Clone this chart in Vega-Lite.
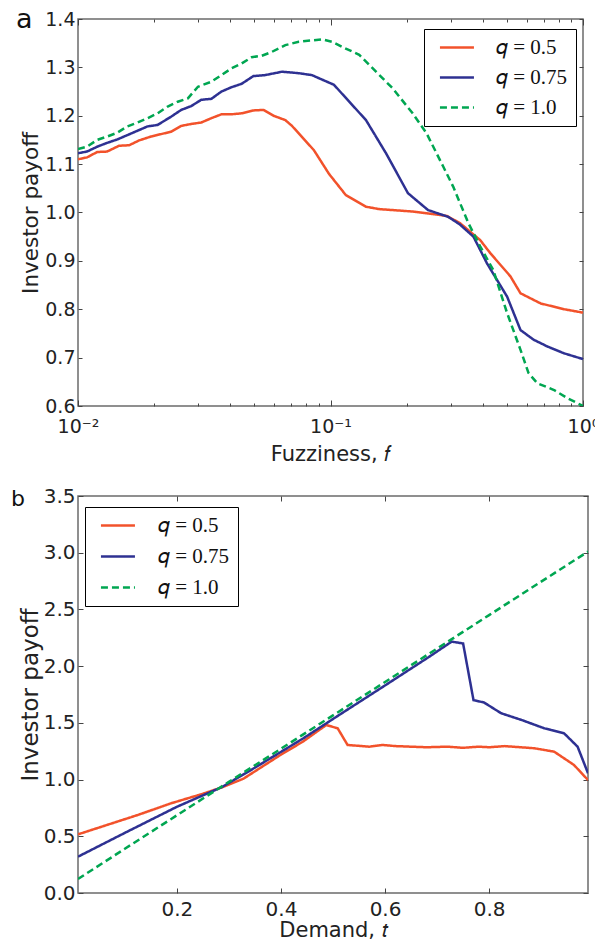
{
  "$schema": "https://vega.github.io/schema/vega-lite/v6.json",
  "padding": {"left": 10, "top": 5, "right": 0, "bottom": 0},
  "datasets": {
    "fuzz": [
      {"f": 0.01, "payoff": 1.110, "q": "0.5"},
      {"f": 0.01086, "payoff": 1.114, "q": "0.5"},
      {"f": 0.01191, "payoff": 1.125, "q": "0.5"},
      {"f": 0.01305, "payoff": 1.126, "q": "0.5"},
      {"f": 0.01454, "payoff": 1.138, "q": "0.5"},
      {"f": 0.01594, "payoff": 1.139, "q": "0.5"},
      {"f": 0.01747, "payoff": 1.149, "q": "0.5"},
      {"f": 0.01944, "payoff": 1.157, "q": "0.5"},
      {"f": 0.02131, "payoff": 1.162, "q": "0.5"},
      {"f": 0.02336, "payoff": 1.167, "q": "0.5"},
      {"f": 0.02562, "payoff": 1.179, "q": "0.5"},
      {"f": 0.02808, "payoff": 1.183, "q": "0.5"},
      {"f": 0.03078, "payoff": 1.186, "q": "0.5"},
      {"f": 0.03375, "payoff": 1.195, "q": "0.5"},
      {"f": 0.03699, "payoff": 1.203, "q": "0.5"},
      {"f": 0.04055, "payoff": 1.203, "q": "0.5"},
      {"f": 0.04446, "payoff": 1.205, "q": "0.5"},
      {"f": 0.04951, "payoff": 1.211, "q": "0.5"},
      {"f": 0.05427, "payoff": 1.212, "q": "0.5"},
      {"f": 0.05949, "payoff": 1.200, "q": "0.5"},
      {"f": 0.06625, "payoff": 1.191, "q": "0.5"},
      {"f": 0.0704, "payoff": 1.179, "q": "0.5"},
      {"f": 0.0859, "payoff": 1.129, "q": "0.5"},
      {"f": 0.0986, "payoff": 1.080, "q": "0.5"},
      {"f": 0.115, "payoff": 1.036, "q": "0.5"},
      {"f": 0.1382, "payoff": 1.012, "q": "0.5"},
      {"f": 0.156, "payoff": 1.007, "q": "0.5"},
      {"f": 0.2115, "payoff": 1.002, "q": "0.5"},
      {"f": 0.2884, "payoff": 0.993, "q": "0.5"},
      {"f": 0.3258, "payoff": 0.978, "q": "0.5"},
      {"f": 0.3916, "payoff": 0.943, "q": "0.5"},
      {"f": 0.4293, "payoff": 0.916, "q": "0.5"},
      {"f": 0.5159, "payoff": 0.868, "q": "0.5"},
      {"f": 0.5656, "payoff": 0.833, "q": "0.5"},
      {"f": 0.6798, "payoff": 0.812, "q": "0.5"},
      {"f": 0.8425, "payoff": 0.800, "q": "0.5"},
      {"f": 1.0, "payoff": 0.793, "q": "0.5"},
      {"f": 0.01, "payoff": 1.1225, "q": "0.75"},
      {"f": 0.01086, "payoff": 1.126, "q": "0.75"},
      {"f": 0.01191, "payoff": 1.136, "q": "0.75"},
      {"f": 0.01305, "payoff": 1.144, "q": "0.75"},
      {"f": 0.01431, "payoff": 1.151, "q": "0.75"},
      {"f": 0.01569, "payoff": 1.160, "q": "0.75"},
      {"f": 0.0172, "payoff": 1.169, "q": "0.75"},
      {"f": 0.01886, "payoff": 1.178, "q": "0.75"},
      {"f": 0.02067, "payoff": 1.181, "q": "0.75"},
      {"f": 0.02336, "payoff": 1.198, "q": "0.75"},
      {"f": 0.02562, "payoff": 1.212, "q": "0.75"},
      {"f": 0.02808, "payoff": 1.220, "q": "0.75"},
      {"f": 0.03078, "payoff": 1.233, "q": "0.75"},
      {"f": 0.03375, "payoff": 1.235, "q": "0.75"},
      {"f": 0.03699, "payoff": 1.250, "q": "0.75"},
      {"f": 0.04055, "payoff": 1.259, "q": "0.75"},
      {"f": 0.04446, "payoff": 1.266, "q": "0.75"},
      {"f": 0.04951, "payoff": 1.282, "q": "0.75"},
      {"f": 0.05512, "payoff": 1.284, "q": "0.75"},
      {"f": 0.06421, "payoff": 1.291, "q": "0.75"},
      {"f": 0.07486, "payoff": 1.288, "q": "0.75"},
      {"f": 0.0844, "payoff": 1.284, "q": "0.75"},
      {"f": 0.1032, "payoff": 1.264, "q": "0.75"},
      {"f": 0.1382, "payoff": 1.191, "q": "0.75"},
      {"f": 0.1661, "payoff": 1.122, "q": "0.75"},
      {"f": 0.2026, "payoff": 1.040, "q": "0.75"},
      {"f": 0.2434, "payoff": 1.005, "q": "0.75"},
      {"f": 0.2927, "payoff": 0.991, "q": "0.75"},
      {"f": 0.3258, "payoff": 0.975, "q": "0.75"},
      {"f": 0.3683, "payoff": 0.950, "q": "0.75"},
      {"f": 0.4165, "payoff": 0.895, "q": "0.75"},
      {"f": 0.5006, "payoff": 0.826, "q": "0.75"},
      {"f": 0.5656, "payoff": 0.757, "q": "0.75"},
      {"f": 0.6374, "payoff": 0.737, "q": "0.75"},
      {"f": 0.723, "payoff": 0.723, "q": "0.75"},
      {"f": 0.8401, "payoff": 0.709, "q": "0.75"},
      {"f": 1.0, "payoff": 0.697, "q": "0.75"},
      {"f": 0.01, "payoff": 1.131, "q": "1.0"},
      {"f": 0.01086, "payoff": 1.136, "q": "1.0"},
      {"f": 0.01191, "payoff": 1.150, "q": "1.0"},
      {"f": 0.01305, "payoff": 1.157, "q": "1.0"},
      {"f": 0.01431, "payoff": 1.165, "q": "1.0"},
      {"f": 0.01569, "payoff": 1.178, "q": "1.0"},
      {"f": 0.0172, "payoff": 1.186, "q": "1.0"},
      {"f": 0.01886, "payoff": 1.195, "q": "1.0"},
      {"f": 0.02067, "payoff": 1.205, "q": "1.0"},
      {"f": 0.02266, "payoff": 1.219, "q": "1.0"},
      {"f": 0.02484, "payoff": 1.229, "q": "1.0"},
      {"f": 0.02724, "payoff": 1.236, "q": "1.0"},
      {"f": 0.02986, "payoff": 1.260, "q": "1.0"},
      {"f": 0.03365, "payoff": 1.270, "q": "1.0"},
      {"f": 0.03699, "payoff": 1.284, "q": "1.0"},
      {"f": 0.04055, "payoff": 1.298, "q": "1.0"},
      {"f": 0.04446, "payoff": 1.308, "q": "1.0"},
      {"f": 0.04873, "payoff": 1.321, "q": "1.0"},
      {"f": 0.05342, "payoff": 1.324, "q": "1.0"},
      {"f": 0.05856, "payoff": 1.332, "q": "1.0"},
      {"f": 0.06625, "payoff": 1.346, "q": "1.0"},
      {"f": 0.07486, "payoff": 1.353, "q": "1.0"},
      {"f": 0.0925, "payoff": 1.358, "q": "1.0"},
      {"f": 0.1014, "payoff": 1.353, "q": "1.0"},
      {"f": 0.1137, "payoff": 1.340, "q": "1.0"},
      {"f": 0.13, "payoff": 1.326, "q": "1.0"},
      {"f": 0.1562, "payoff": 1.284, "q": "1.0"},
      {"f": 0.176, "payoff": 1.257, "q": "1.0"},
      {"f": 0.2115, "payoff": 1.205, "q": "1.0"},
      {"f": 0.2399, "payoff": 1.164, "q": "1.0"},
      {"f": 0.2795, "payoff": 1.095, "q": "1.0"},
      {"f": 0.3064, "payoff": 1.053, "q": "1.0"},
      {"f": 0.3516, "payoff": 0.978, "q": "1.0"},
      {"f": 0.3916, "payoff": 0.930, "q": "1.0"},
      {"f": 0.4413, "payoff": 0.881, "q": "1.0"},
      {"f": 0.5006, "payoff": 0.792, "q": "1.0"},
      {"f": 0.5656, "payoff": 0.716, "q": "1.0"},
      {"f": 0.6087, "payoff": 0.668, "q": "1.0"},
      {"f": 0.6595, "payoff": 0.647, "q": "1.0"},
      {"f": 0.7681, "payoff": 0.633, "q": "1.0"},
      {"f": 0.8694, "payoff": 0.616, "q": "1.0"},
      {"f": 1.0, "payoff": 0.600, "q": "1.0"}
    ],
    "demand": [
      {"t": 0.01, "payoff": 0.517, "q": "0.5"},
      {"t": 0.125, "payoff": 0.688, "q": "0.5"},
      {"t": 0.189, "payoff": 0.791, "q": "0.5"},
      {"t": 0.25, "payoff": 0.875, "q": "0.5"},
      {"t": 0.287, "payoff": 0.932, "q": "0.5"},
      {"t": 0.328, "payoff": 1.008, "q": "0.5"},
      {"t": 0.4, "payoff": 1.22, "q": "0.5"},
      {"t": 0.442, "payoff": 1.334, "q": "0.5"},
      {"t": 0.487, "payoff": 1.481, "q": "0.5"},
      {"t": 0.509, "payoff": 1.452, "q": "0.5"},
      {"t": 0.528, "payoff": 1.305, "q": "0.5"},
      {"t": 0.57, "payoff": 1.29, "q": "0.5"},
      {"t": 0.595, "payoff": 1.305, "q": "0.5"},
      {"t": 0.62, "payoff": 1.295, "q": "0.5"},
      {"t": 0.65, "payoff": 1.29, "q": "0.5"},
      {"t": 0.68, "payoff": 1.285, "q": "0.5"},
      {"t": 0.72, "payoff": 1.29, "q": "0.5"},
      {"t": 0.75, "payoff": 1.28, "q": "0.5"},
      {"t": 0.78, "payoff": 1.29, "q": "0.5"},
      {"t": 0.8, "payoff": 1.285, "q": "0.5"},
      {"t": 0.83, "payoff": 1.295, "q": "0.5"},
      {"t": 0.86, "payoff": 1.285, "q": "0.5"},
      {"t": 0.887, "payoff": 1.276, "q": "0.5"},
      {"t": 0.925, "payoff": 1.246, "q": "0.5"},
      {"t": 0.963, "payoff": 1.129, "q": "0.5"},
      {"t": 0.99, "payoff": 0.996, "q": "0.5"},
      {"t": 0.01, "payoff": 0.32, "q": "0.75"},
      {"t": 0.1, "payoff": 0.53, "q": "0.75"},
      {"t": 0.2, "payoff": 0.76, "q": "0.75"},
      {"t": 0.287, "payoff": 0.935, "q": "0.75"},
      {"t": 0.35, "payoff": 1.105, "q": "0.75"},
      {"t": 0.443, "payoff": 1.364, "q": "0.75"},
      {"t": 0.512, "payoff": 1.57, "q": "0.75"},
      {"t": 0.595, "payoff": 1.815, "q": "0.75"},
      {"t": 0.684, "payoff": 2.08, "q": "0.75"},
      {"t": 0.728, "payoff": 2.216, "q": "0.75"},
      {"t": 0.75, "payoff": 2.2, "q": "0.75"},
      {"t": 0.77, "payoff": 1.70, "q": "0.75"},
      {"t": 0.79, "payoff": 1.68, "q": "0.75"},
      {"t": 0.823, "payoff": 1.585, "q": "0.75"},
      {"t": 0.862, "payoff": 1.526, "q": "0.75"},
      {"t": 0.906, "payoff": 1.452, "q": "0.75"},
      {"t": 0.944, "payoff": 1.408, "q": "0.75"},
      {"t": 0.97, "payoff": 1.29, "q": "0.75"},
      {"t": 0.99, "payoff": 1.056, "q": "0.75"},
      {"t": 0.01, "payoff": 0.123, "q": "1.0"},
      {"t": 0.1, "payoff": 0.39, "q": "1.0"},
      {"t": 0.2, "payoff": 0.685, "q": "1.0"},
      {"t": 0.3, "payoff": 0.98, "q": "1.0"},
      {"t": 0.4, "payoff": 1.272, "q": "1.0"},
      {"t": 0.5, "payoff": 1.566, "q": "1.0"},
      {"t": 0.6, "payoff": 1.86, "q": "1.0"},
      {"t": 0.7, "payoff": 2.155, "q": "1.0"},
      {"t": 0.8, "payoff": 2.45, "q": "1.0"},
      {"t": 0.9, "payoff": 2.745, "q": "1.0"},
      {"t": 0.99, "payoff": 3.01, "q": "1.0"}
    ]
  },
  "vconcat": [
    {
      "width": 505,
      "height": 387,
      "title": {"text": "a", "anchor": "start", "frame": "group", "fontSize": 27, "fontWeight": "normal", "color": "#111", "dx": -62, "offset": -24},
      "data": {"name": "fuzz"},
      "layer": [
        {
          "mark": {"type": "line", "strokeWidth": 2.5, "clip": true},
          "encoding": {
            "x": {"field": "f", "type": "quantitative", "scale": {"type": "log", "domain": [0.01, 1], "nice": false},
              "axis": {"orient": "bottom", "values": [0.01,0.02,0.03,0.04,0.05,0.06,0.07,0.08,0.09,0.1,0.2,0.3,0.4,0.5,0.6,0.7,0.8,0.9,1],
                "labelExpr": "datum.value == 0.01 ? '10⁻²' : datum.value == 0.1 ? '10⁻¹' : datum.value == 1 ? '10⁰' : ''",
                "labelOverlap": false, "labelFlush": false,
                "tickSize": {"condition": {"test": "datum.value == 0.01 || datum.value == 0.1 || datum.value == 1", "value": -6}, "value": -3},
                "labelPadding": 17, "title": "Fuzziness, 𝑓", "titlePadding": 4}},
            "y": {"field": "payoff", "type": "quantitative", "scale": {"domain": [0.6, 1.4], "nice": false, "zero": false},
              "axis": {"orient": "left", "values": [0.6,0.7,0.8,0.9,1.0,1.1,1.2,1.3,1.4], "format": ".1f", "tickSize": -4, "labelPadding": 7, "title": "Investor payoff", "titleFontSize": 21.5, "titlePadding": 2}},
            "color": {"field": "q", "type": "nominal", "scale": {"domain": ["0.5","0.75","1.0"], "range": ["#f2522b","#2e3192","#00a651"]},
              "legend": {"orient": "none", "legendX": 346, "legendY": 10, "title": null, "symbolType": "M-0.3,0H3.7", "symbolSize": 289, "symbolStrokeWidth": 2.5, "labelFont": "Liberation Serif", "labelFontSize": 21, "labelColor": "#111", "labelExpr": "'𝑞 = ' + datum.label", "padding": 8, "rowPadding": 8, "labelOffset": 43, "strokeColor": "#000", "fillColor": "#fff", "cornerRadius": 0}},
            "strokeDash": {"field": "q", "type": "nominal", "scale": {"domain": ["0.5","0.75","1.0"], "range": [[1,0],[1,0],[7,4]]},
              "legend": {"orient": "none", "legendX": 346, "legendY": 10, "title": null, "symbolType": "M-0.3,0H3.7", "symbolSize": 289, "symbolStrokeWidth": 2.5, "labelFont": "Liberation Serif", "labelFontSize": 21, "labelColor": "#111", "labelExpr": "'𝑞 = ' + datum.label", "padding": 8, "rowPadding": 8, "labelOffset": 43, "strokeColor": "#000", "fillColor": "#fff", "cornerRadius": 0}}
          }
        },
        {
          "mark": {"type": "line", "opacity": 0},
          "encoding": {
            "x": {"field": "f", "type": "quantitative", "scale": {"type": "log", "domain": [0.01, 1], "nice": false},
              "axis": {"orient": "top", "values": [0.01,0.02,0.03,0.04,0.05,0.06,0.07,0.08,0.09,0.1,0.2,0.3,0.4,0.5,0.6,0.7,0.8,0.9,1], "labels": false, "title": null,
                "tickSize": {"condition": {"test": "datum.value == 0.01 || datum.value == 0.1 || datum.value == 1", "value": -6}, "value": -3}}},
            "y": {"field": "payoff", "type": "quantitative", "scale": {"domain": [0.6, 1.4], "nice": false, "zero": false},
              "axis": {"orient": "right", "values": [0.6,0.7,0.8,0.9,1.0,1.1,1.2,1.3,1.4], "labels": false, "title": null, "tickSize": -4}},
            "detail": {"field": "q"}
          }
        }
      ],
      "resolve": {"axis": {"x": "independent", "y": "independent"}}
    },
    {
      "width": 510,
      "height": 397,
      "title": {"text": "b", "anchor": "start", "frame": "group", "fontSize": 22, "fontWeight": "normal", "color": "#111", "dx": -67, "offset": -25},
      "data": {"name": "demand"},
      "layer": [
        {
          "mark": {"type": "line", "strokeWidth": 2.5, "clip": true},
          "encoding": {
            "x": {"field": "t", "type": "quantitative", "scale": {"domain": [0.01, 0.99], "nice": false, "zero": false},
              "axis": {"orient": "bottom", "values": [0.2,0.4,0.6,0.8], "format": ".1f", "tickSize": -5, "labelPadding": 11, "labelFontSize": 20, "title": "Demand, 𝑡", "titlePadding": 0}},
            "y": {"field": "payoff", "type": "quantitative", "scale": {"domain": [0, 3.5], "nice": false},
              "axis": {"orient": "left", "values": [0,0.5,1.0,1.5,2.0,2.5,3.0,3.5], "format": ".1f", "tickSize": -5, "labelPadding": 8, "labelFontSize": 20, "title": "Investor payoff", "titleFontSize": 23, "titlePadding": 1}},
            "color": {"field": "q", "type": "nominal", "scale": {"domain": ["0.5","0.75","1.0"], "range": ["#f2522b","#2e3192","#00a651"]},
              "legend": {"orient": "none", "legendX": 7, "legendY": 11, "title": null, "symbolType": "M-0.3,0H3.7", "symbolSize": 289, "symbolStrokeWidth": 2.5, "labelFont": "Liberation Serif", "labelFontSize": 21, "labelColor": "#111", "labelExpr": "'𝑞 = ' + datum.label", "padding": 8, "rowPadding": 9, "labelOffset": 44, "strokeColor": "#000", "fillColor": "#fff", "cornerRadius": 0}},
            "strokeDash": {"field": "q", "type": "nominal", "scale": {"domain": ["0.5","0.75","1.0"], "range": [[1,0],[1,0],[7,4]]},
              "legend": {"orient": "none", "legendX": 7, "legendY": 11, "title": null, "symbolType": "M-0.3,0H3.7", "symbolSize": 289, "symbolStrokeWidth": 2.5, "labelFont": "Liberation Serif", "labelFontSize": 21, "labelColor": "#111", "labelExpr": "'𝑞 = ' + datum.label", "padding": 8, "rowPadding": 9, "labelOffset": 44, "strokeColor": "#000", "fillColor": "#fff", "cornerRadius": 0}}
          }
        },
        {
          "mark": {"type": "line", "opacity": 0},
          "encoding": {
            "x": {"field": "t", "type": "quantitative", "scale": {"domain": [0.01, 0.99], "nice": false, "zero": false},
              "axis": {"orient": "top", "values": [0.2,0.4,0.6,0.8], "labels": false, "title": null, "tickSize": -5}},
            "y": {"field": "payoff", "type": "quantitative", "scale": {"domain": [0, 3.5], "nice": false},
              "axis": {"orient": "right", "values": [0,0.5,1.0,1.5,2.0,2.5,3.0,3.5], "labels": false, "title": null, "tickSize": -5}},
            "detail": {"field": "q"}
          }
        }
      ],
      "resolve": {"axis": {"x": "independent", "y": "independent"}}
    }
  ],
  "spacing": 20,
  "resolve": {"scale": {"color": "independent", "strokeDash": "independent"}, "legend": {"color": "independent", "strokeDash": "independent"}},
  "config": {
    "font": "DejaVu Sans",
    "view": {"stroke": "#6b6b6b", "strokeWidth": 1.5},
    "axis": {"grid": false, "domain": false, "labelColor": "#222", "titleColor": "#222", "titleFontWeight": "normal", "tickColor": "#444", "tickWidth": 1, "labelFontSize": 19, "titleFontSize": 21}
  }
}
